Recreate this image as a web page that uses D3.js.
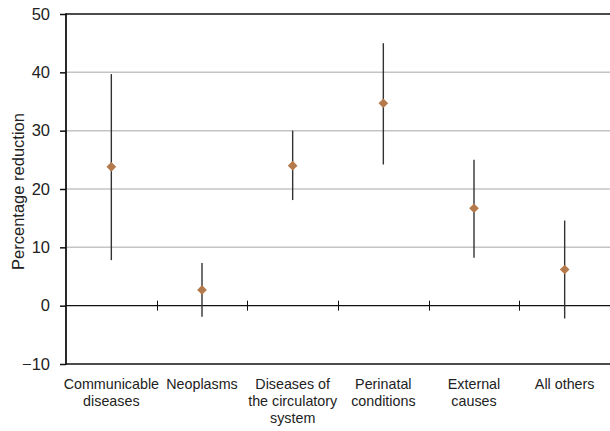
<!DOCTYPE html>
<html>
<head>
<meta charset="utf-8">
<script src="https://cdn.jsdelivr.net/npm/d3@7"></script>
<style>
  html, body { margin: 0; padding: 0; background: #fff; }
  svg { display: block; font-family: "Liberation Sans", Arial, sans-serif; }
</style>
</head>
<body>
<svg id="chart" width="610" height="431"></svg>
<script>
// Cause-of-death groups, each with a point estimate and its interval
const categories = [
  ["Communicable", "diseases"],
  ["Neoplasms"],
  ["Diseases of", "the circulatory", "system"],
  ["Perinatal", "conditions"],
  ["External", "causes"],
  ["All others"]
];
const estimates = [23.8, 2.7, 24.0, 34.7, 16.7, 6.2];
const lowerBounds = [7.8, -1.9, 18.1, 24.2, 8.2, -2.2];
const upperBounds = [39.7, 7.3, 30.0, 45.0, 25.0, 14.6];
const yTicks = [-10, 0, 10, 20, 30, 40, 50];

const svg = d3.select("#chart");
const plot = { left: 66, right: 610, top: 14, bottom: 364 };

const x = d3.scaleBand().domain(d3.range(categories.length)).range([plot.left, plot.right]);
const y = d3.scaleLinear().domain([-10, 50]).range([plot.bottom, plot.top]);

// Light horizontal gridlines
svg.append("g").selectAll("line")
  .data(yTicks.filter(t => t > 0 && t < 50))
  .join("line")
  .attr("x1", plot.left).attr("x2", plot.right)
  .attr("y1", d => y(d)).attr("y2", d => y(d))
  .attr("stroke", "#c4c4c4").attr("stroke-width", 1.5);

// Frame lines at top and bottom of the value range
[50, -10].forEach(v => {
  svg.append("line")
    .attr("x1", plot.left).attr("x2", plot.right)
    .attr("y1", y(v)).attr("y2", y(v))
    .attr("stroke", "#111").attr("stroke-width", 1.5);
});

// Zero baseline with tick marks between categories
svg.append("line")
  .attr("x1", plot.left).attr("x2", plot.right)
  .attr("y1", y(0)).attr("y2", y(0))
  .attr("stroke", "#111").attr("stroke-width", 1.3);
svg.append("g").selectAll("line")
  .data(d3.range(1, categories.length))
  .join("line")
  .attr("x1", i => Math.round(x(i)) + 0.5).attr("x2", i => Math.round(x(i)) + 0.5)
  .attr("y1", y(0) - 5).attr("y2", y(0) + 5)
  .attr("stroke", "#111").attr("stroke-width", 1);

// Left value axis
const yAxis = d3.axisLeft(y).tickValues(yTicks).tickSize(6).tickPadding(10)
  .tickFormat(d => d < 0 ? "\u2212" + Math.abs(d) : d);
const ay = svg.append("g").attr("transform", `translate(${plot.left},0)`).call(yAxis);
ay.select(".domain").remove();
ay.selectAll(".tick line").attr("stroke", "#111").attr("stroke-width", 1.5);
ay.selectAll(".tick text").attr("font-size", 16.5).attr("fill", "#222")
  .attr("font-family", "'Liberation Sans Narrow', 'Arial Narrow', 'Liberation Sans', sans-serif");
svg.append("line")
  .attr("x1", plot.left).attr("x2", plot.left)
  .attr("y1", plot.top - 0.75).attr("y2", plot.bottom + 0.75)
  .attr("stroke", "#111").attr("stroke-width", 1.8);

// Axis title
svg.append("text")
  .attr("transform", "translate(24,191.5) rotate(-90)")
  .attr("text-anchor", "middle")
  .attr("font-size", 16.5).attr("fill", "#222")
  .text("Percentage reduction");

// Category labels
const cx = i => x(i) + x.bandwidth() / 2;
const lab = svg.append("g").selectAll("text")
  .data(categories)
  .join("text")
  .attr("text-anchor", "middle")
  .attr("font-size", 14.3).attr("fill", "#222")
  .attr("transform", (d, i) => `translate(${cx(i)},389)`);
lab.selectAll("tspan")
  .data(d => d)
  .join("tspan")
  .attr("x", 0).attr("y", (d, j) => j * 17)
  .text(d => d);

// Interval whiskers
svg.append("g").selectAll("line")
  .data(categories.map((c, i) => i))
  .join("line")
  .attr("x1", i => cx(i)).attr("x2", i => cx(i))
  .attr("y1", i => y(upperBounds[i])).attr("y2", i => y(lowerBounds[i]))
  .attr("stroke", "#333").attr("stroke-width", 1.4);

// Point estimates as diamonds
svg.append("g").selectAll("path")
  .data(estimates)
  .join("path")
  .attr("d", d3.symbol(d3.symbolDiamond2, 60))
  .attr("transform", (d, i) => `translate(${cx(i)},${y(d)})`)
  .attr("fill", "#b47a4c");
</script>
</body>
</html>
